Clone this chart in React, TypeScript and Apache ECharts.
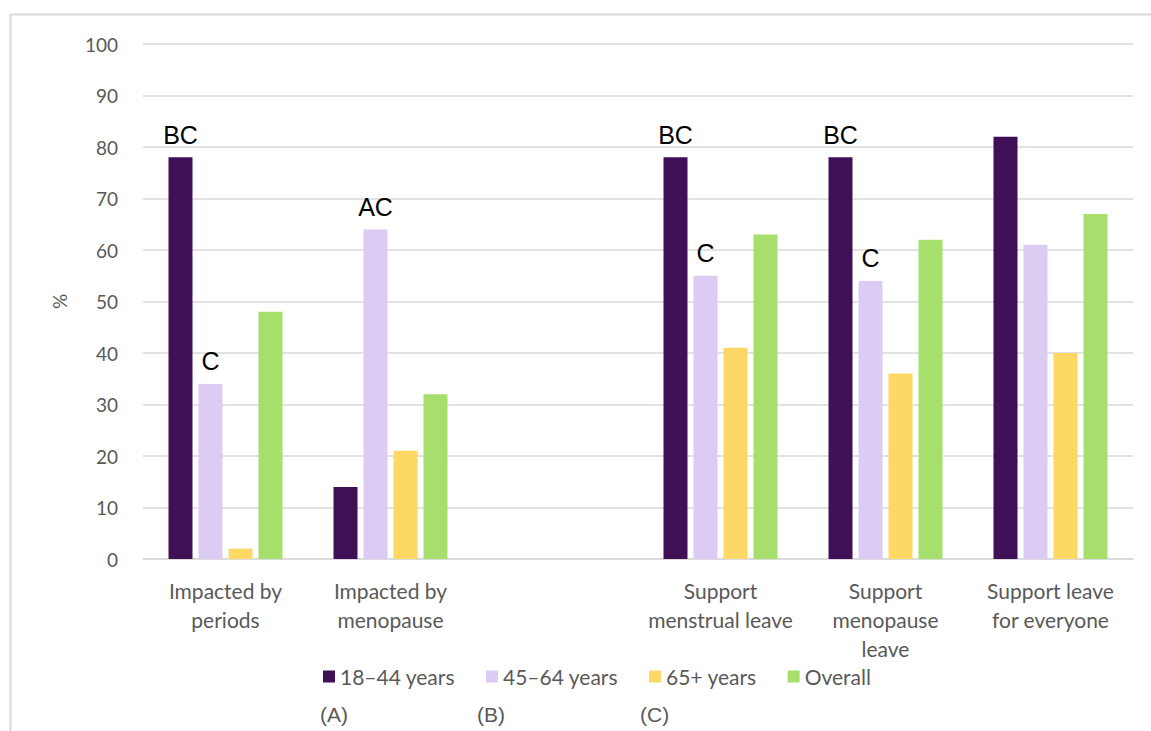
import React, { useEffect, useRef } from "react";
import * as echarts from "echarts";

const categories = [
  "Impacted by\nperiods",
  "Impacted by\nmenopause",
  "",
  "Support\nmenstrual leave",
  "Support\nmenopause\nleave",
  "Support leave\nfor everyone",
];

const seriesNames = ["18–44 years", "45–64 years", "65+ years", "Overall"];
const seriesColors = ["#3f1055", "#dccbf3", "#fdd865", "#a6df6b"];

const age18to44 = [78, 14, null, 78, 78, 82];
const age45to64 = [34, 64, null, 55, 54, 61];
const age65plus = [2, 21, null, 41, 36, 40];
const overall = [48, 32, null, 63, 62, 67];

// significance markers drawn above the bars
const marks18to44 = ["BC", "", "", "BC", "BC", ""];
const marks45to64 = ["C", "AC", "", "C", "C", ""];

const groupKeys = ["(A)", "(B)", "(C)"];

const yTicks = { min: 0, max: 100, interval: 10 };

const axisFont = "Lato, 'Open Sans', sans-serif";
const markFont = "'Liberation Sans', Arial, sans-serif";

function withMarks(values: (number | null)[], marks?: string[]) {
  return values.map((v, i) => {
    if (v === null) return "-";
    const m = marks ? marks[i] : "";
    if (!m) return v;
    return {
      value: v,
      label: {
        show: true,
        position: "top",
        distance: 10,
        formatter: m,
        color: "#000000",
        fontFamily: markFont,
        fontSize: 25,
      },
    };
  });
}

export default function App() {
  const ref = useRef<HTMLDivElement>(null);

  useEffect(() => {
    document.body.style.margin = "0";
    const chart = echarts.init(ref.current!, null, { renderer: "svg" });
    const allValues = [age18to44, age45to64, age65plus, overall];
    const allMarks = [marks18to44, marks45to64, undefined, undefined];

    chart.setOption({
      animation: false,
      backgroundColor: "#ffffff",
      grid: { left: 143, right: 18, top: 44, bottom: 172 },
      legend: {
        left: 318,
        top: 661,
        icon: "rect",
        itemWidth: 12,
        itemHeight: 12,
        itemGap: 31,
        data: seriesNames,
        textStyle: { color: "#595959", fontSize: 21, fontFamily: axisFont },
      },
      xAxis: {
        type: "category",
        data: categories,
        axisLine: { lineStyle: { color: "#d9d9d9", width: 1.5 } },
        axisTick: { show: false },
        axisLabel: {
          color: "#595959",
          fontSize: 21,
          fontFamily: axisFont,
          lineHeight: 29,
          margin: 17,
          interval: 0,
        },
      },
      yAxis: {
        type: "value",
        min: yTicks.min,
        max: yTicks.max,
        interval: yTicks.interval,
        name: "%",
        nameLocation: "middle",
        nameRotate: 90,
        nameGap: 74,
        nameTextStyle: { color: "#595959", fontSize: 19, fontFamily: axisFont },
        axisLine: { show: false },
        axisTick: { show: false },
        splitLine: { lineStyle: { color: "#d9d9d9", width: 1.5 } },
        axisLabel: {
          color: "#595959",
          fontSize: 19,
          fontFamily: axisFont,
          margin: 25,
        },
      },
      series: seriesNames.map((name, i) => ({
        name,
        type: "bar",
        barWidth: 24,
        barGap: "25%",
        itemStyle: { color: seriesColors[i] },
        data: withMarks(allValues[i], allMarks[i]),
      })),
      graphic: [
        {
          type: "rect",
          shape: { x: 10.5, y: 14.5, width: 1300, height: 900 },
          style: { fill: "none", stroke: "#d9d9d9", lineWidth: 2 },
          silent: true,
        },
        ...groupKeys.map((k, i) => ({
          type: "text",
          left: [320, 477, 640][i],
          top: 704,
          style: {
            text: k,
            fill: "#595959",
            fontSize: 21,
            fontFamily: markFont,
          },
        })),
      ],
    });
    return () => chart.dispose();
  }, []);

  return <div ref={ref} style={{ width: 1151, height: 731 }} />;
}
